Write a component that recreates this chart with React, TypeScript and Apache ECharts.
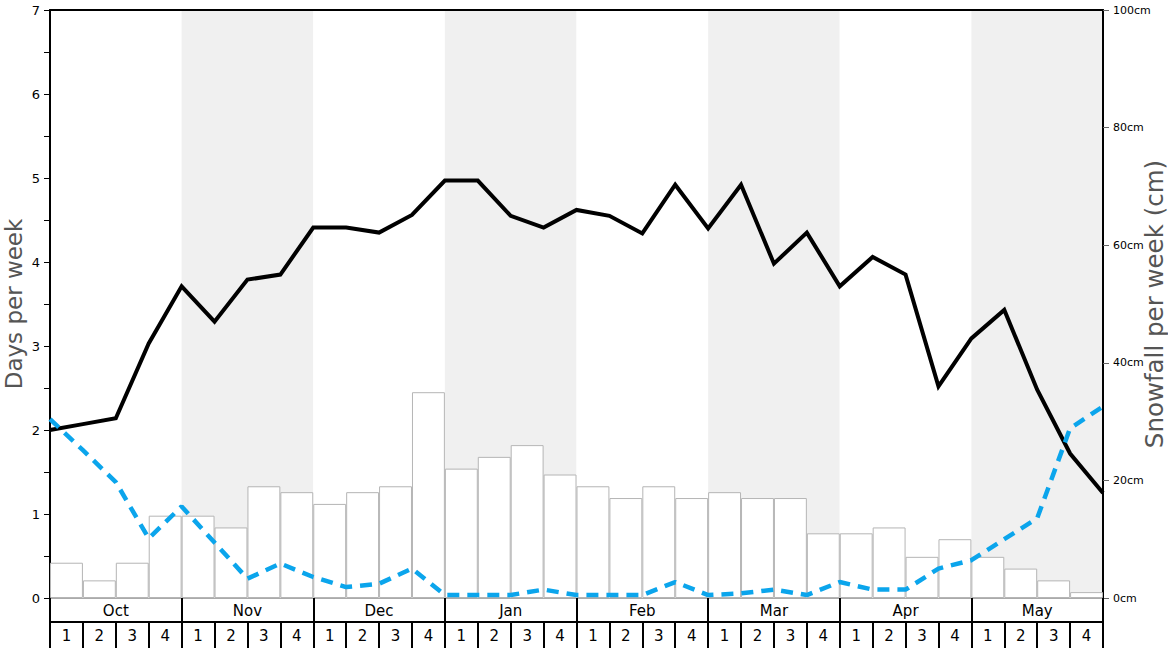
import React, { useEffect, useRef } from "react";
import * as echarts from "echarts";

const months = ["Oct", "Nov", "Dec", "Jan", "Feb", "Mar", "Apr", "May"];
const weekLabels = ["1", "2", "3", "4"];

// Snowfall per week (cm), one bar per week (32 weeks)
const snowfallCm = [
  6, 3, 6, 14, 14, 12, 19, 18, 16, 18, 19, 35, 22, 24, 26, 21,
  19, 17, 19, 17, 18, 17, 17, 11, 11, 12, 7, 10, 7, 5, 3, 1,
];

// Days per week (black line), at week boundaries (33 points)
const snowDays = [
  2.0, 2.07, 2.14, 3.03, 3.71, 3.29, 3.79, 3.85, 4.41, 4.41, 4.35,
  4.56, 4.97, 4.97, 4.55, 4.41, 4.62, 4.55, 4.34, 4.92, 4.4, 4.92,
  3.98, 4.35, 3.71, 4.06, 3.85, 2.52, 3.09, 3.43, 2.48, 1.72, 1.25,
];

// Days per week (blue dashed line), at week boundaries (33 points)
const otherDays = [
  2.13, 1.76, 1.38, 0.71, 1.09, 0.66, 0.23, 0.41, 0.25, 0.13, 0.17,
  0.35, 0.035, 0.035, 0.035, 0.1, 0.035, 0.035, 0.035, 0.19, 0.035, 0.055,
  0.1, 0.035, 0.19, 0.1, 0.1, 0.35, 0.45, 0.7, 0.95, 2.02, 2.28,
];

const weekCategories: string[] = [];
months.forEach((m) => weekLabels.forEach((w) => weekCategories.push(m + "-" + w)));

const FONT = "DejaVu Sans";

export default function App() {
  const ref = useRef<HTMLDivElement>(null);

  useEffect(() => {
    if (!ref.current) return;
    const chart = echarts.init(ref.current, undefined, { renderer: "svg" });
    const option: any = {
      animation: false,
      backgroundColor: "#ffffff",
      textStyle: { fontFamily: FONT },
      grid: {
        left: 50,
        right: 65,
        top: 10,
        bottom: 50,
        containLabel: false,
        outerBoundsMode: "none",
      },
      xAxis: [
        {
          type: "value",
          position: "top",
          min: 0,
          max: 32,
          interval: 4,
          axisLine: { show: true, onZero: false, lineStyle: { color: "#000", width: 2 } },
          axisTick: { show: false },
          axisLabel: { show: false },
          splitLine: { show: false },
          splitArea: { show: true, areaStyle: { color: ["#ffffff", "#f0f0f0"] } },
        },
        {
          type: "category",
          position: "bottom",
          offset: 24,
          data: weekCategories,
          axisLine: { show: true, onZero: false, lineStyle: { color: "#000", width: 2 } },
          axisTick: { show: true, interval: 0, length: 26, lineStyle: { color: "#000", width: 2 } },
          axisLabel: {
            interval: 0,
            fontSize: 15,
            color: "#000",
            margin: 6,
            fontFamily: FONT,
            formatter: (v: string) => v.split("-")[1],
          },
          splitLine: { show: false },
        },
        {
          type: "category",
          position: "bottom",
          offset: 0,
          data: months,
          axisLine: { show: true, onZero: false, lineStyle: { color: "#aaaaaa", width: 1 } },
          axisTick: { show: true, interval: 0, length: 24, lineStyle: { color: "#000", width: 2 } },
          axisLabel: { interval: 0, fontSize: 15, color: "#000", margin: 5, fontFamily: FONT },
          splitLine: { show: false },
        },
      ],
      yAxis: [
        {
          type: "value",
          position: "left",
          min: 0,
          max: 7,
          interval: 1,
          axisLine: { show: true, onZero: false, lineStyle: { color: "#000", width: 2 } },
          axisTick: { show: true, length: 6, lineStyle: { color: "#000", width: 1 } },
          minorTick: { show: true, splitNumber: 2, length: 6, lineStyle: { color: "#000", width: 1 } },
          splitLine: { show: false },
          axisLabel: { fontSize: 13, color: "#000", margin: 10, fontFamily: FONT },
          name: "Days per week",
          nameLocation: "middle",
          nameGap: 25,
          nameMoveOverlap: false,
          nameTextStyle: { fontSize: 23, color: "#555", fontFamily: FONT },
        },
        {
          type: "value",
          position: "right",
          min: 0,
          max: 100,
          interval: 20,
          axisLine: { show: true, onZero: false, lineStyle: { color: "#000", width: 2 } },
          axisTick: { show: true, length: 6, lineStyle: { color: "#666", width: 1 } },
          splitLine: { show: false },
          axisLabel: { fontSize: 11, color: "#000", margin: 10, formatter: "{value}cm", fontFamily: FONT },
          name: "Snowfall per week (cm)",
          nameLocation: "middle",
          nameGap: 39,
          nameMoveOverlap: false,
          nameTextStyle: { fontSize: 24.5, color: "#555", fontFamily: FONT },
        },
      ],
      series: [
        {
          type: "bar",
          xAxisIndex: 1,
          yAxisIndex: 1,
          data: snowfallCm,
          barWidth: "100%",
          barCategoryGap: 0,
          itemStyle: { color: "#ffffff", borderColor: "#b5b5b5", borderWidth: 1 },
          z: 2,
          silent: true,
        },
        {
          type: "line",
          xAxisIndex: 0,
          yAxisIndex: 0,
          data: snowDays.map((v, i) => [i, v]),
          symbol: "none",
          lineStyle: { color: "#000", width: 4, join: "miter" },
          z: 3,
          silent: true,
        },
        {
          type: "line",
          xAxisIndex: 0,
          yAxisIndex: 0,
          data: otherDays.map((v, i) => [i, v]),
          symbol: "none",
          lineStyle: { color: "#0ba5ec", width: 4.5, type: [12, 8], cap: "butt" },
          z: 4,
          silent: true,
        },
      ],
    };
    chart.setOption(option);
    return () => chart.dispose();
  }, []);

  return (
    <div
      ref={ref}
      style={{ position: "fixed", left: 0, top: 0, width: 1168, height: 648, background: "#fff" }}
    />
  );
}
